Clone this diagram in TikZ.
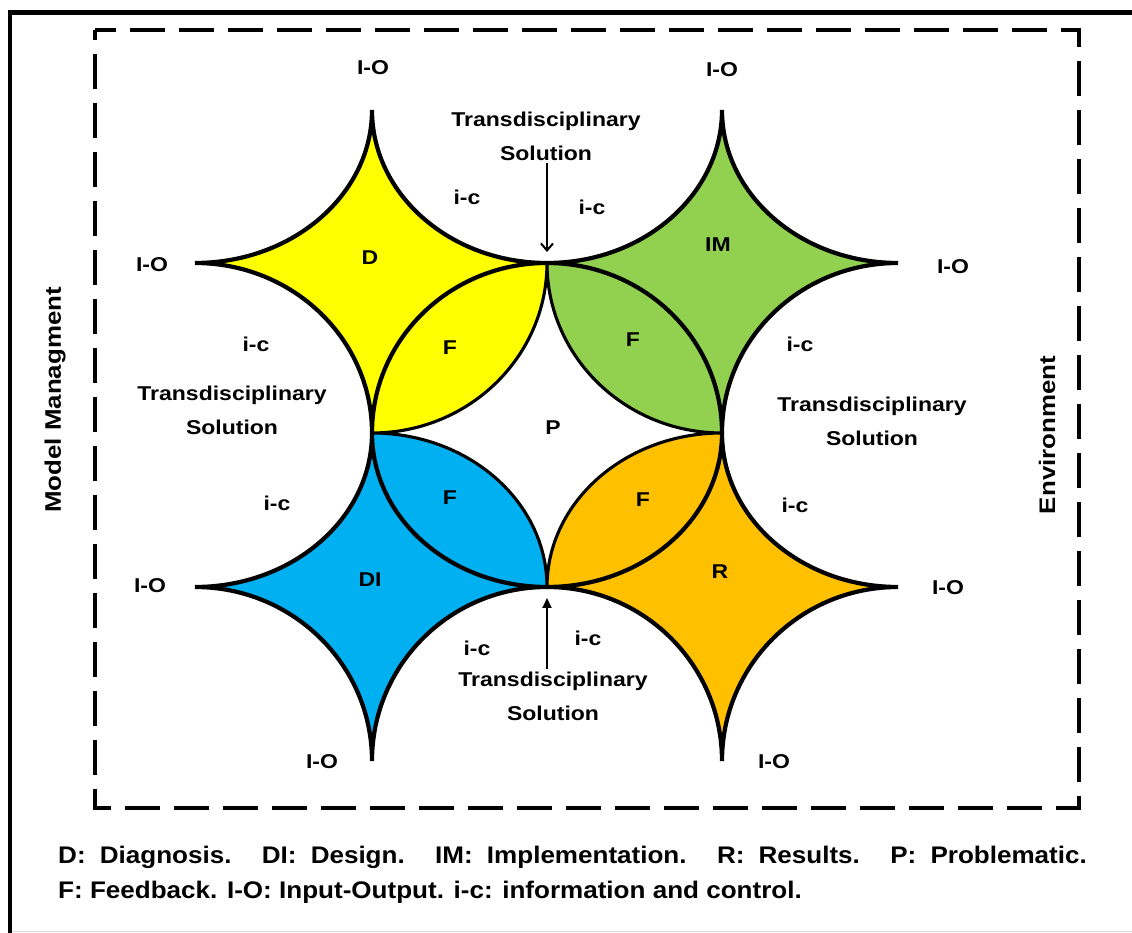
\documentclass[tikz,border=0pt]{standalone}
\usepackage{fontspec}
\setmainfont{Liberation Sans}
\usetikzlibrary{arrows.meta}
\definecolor{diagYellow}{HTML}{FFFF00}
\definecolor{implGreen}{HTML}{92D050}
\definecolor{desBlue}{HTML}{00B0F0}
\definecolor{resOrange}{HTML}{FFC000}

\tikzset{
  lbl/.style={font=\fontsize{20}{34}\selectfont\bfseries, xscale=1.15, inner sep=2pt, align=center},
  side/.style={font=\fontsize{22.5}{26}\selectfont\bfseries, rotate=90, xscale=1.15, inner sep=0pt},
  legend/.style={font=\fontsize{24}{28}\selectfont\bfseries, xscale=1.085, inner sep=0pt},
  rim/.style={line width=4.2pt},
  pbound/.style={line width=3.1pt},
  pointer/.style={line width=2pt, shorten >=11pt}
}

\begin{document}
\begin{tikzpicture}[x=1pt,y=1pt]
  \useasboundingbox (0,0) rectangle (1132,933);
  % frame
  \draw[line width=1pt, black!15] (10,1.5) -- (1132,1.5);
  \draw[line width=4.5pt] (1132,920.5) -- (10,920.5) -- (10,0);
  \draw[line width=3.5pt, dash pattern=on 35pt off 14pt, dash phase=25pt] (95,903) rectangle (1079,125);

  % fills: star plus its F lens
  \fill[diagYellow] (372,823) arc[start angle=180,end angle=270,x radius=175,y radius=153]
    arc[start angle=0,end angle=-90,x radius=175,y radius=170]
    arc[start angle=0,end angle=90,x radius=177,y radius=170]
    arc[start angle=270,end angle=360,x radius=177,y radius=153] -- cycle;
  \fill[implGreen] (547,670) arc[start angle=270,end angle=360,x radius=175,y radius=153]
    arc[start angle=180,end angle=270,x radius=176,y radius=153]
    arc[start angle=90,end angle=180,x radius=176,y radius=170]
    arc[start angle=270,end angle=180,x radius=175,y radius=170] -- cycle;
  \fill[desBlue] (372,500) arc[start angle=90,end angle=0,x radius=175,y radius=154]
    arc[start angle=90,end angle=180,x radius=175,y radius=174]
    arc[start angle=0,end angle=90,x radius=177,y radius=174]
    arc[start angle=270,end angle=360,x radius=177,y radius=154] -- cycle;
  \fill[resOrange] (547,346) arc[start angle=180,end angle=90,x radius=175,y radius=154]
    arc[start angle=180,end angle=270,x radius=176,y radius=154]
    arc[start angle=90,end angle=180,x radius=176,y radius=174]
    arc[start angle=0,end angle=90,x radius=175,y radius=174] -- cycle;

  % P boundary
  \draw[pbound] (547,670) arc[start angle=0,end angle=-90,x radius=175,y radius=170]
    arc[start angle=90,end angle=0,x radius=175,y radius=154]
    arc[start angle=180,end angle=90,x radius=175,y radius=154]
    arc[start angle=270,end angle=180,x radius=175,y radius=170];

  % star outlines
  \draw[rim] (372,823) arc[start angle=180,end angle=270,x radius=175,y radius=153]
    arc[start angle=90,end angle=180,x radius=175,y radius=170]
    arc[start angle=0,end angle=90,x radius=177,y radius=170]
    arc[start angle=270,end angle=360,x radius=177,y radius=153];
  \draw[rim] (547,670) arc[start angle=270,end angle=360,x radius=175,y radius=153]
    arc[start angle=180,end angle=270,x radius=176,y radius=153]
    arc[start angle=90,end angle=180,x radius=176,y radius=170]
    arc[start angle=0,end angle=90,x radius=175,y radius=170];
  \draw[rim] (372,500) arc[start angle=180,end angle=270,x radius=175,y radius=154]
    arc[start angle=90,end angle=180,x radius=175,y radius=174]
    arc[start angle=0,end angle=90,x radius=177,y radius=174]
    arc[start angle=270,end angle=360,x radius=177,y radius=154];
  \draw[rim] (547,346) arc[start angle=270,end angle=360,x radius=175,y radius=154]
    arc[start angle=180,end angle=270,x radius=176,y radius=154]
    arc[start angle=90,end angle=180,x radius=176,y radius=174]
    arc[start angle=0,end angle=90,x radius=175,y radius=174];

  \coordinate (jTop) at (547,670);
  \coordinate (jBot) at (547,346);

  % region names
  \node[lbl] (d) at (370,675) {D};
  \node[lbl] (im) at (718,688) {IM};
  \node[lbl] (di) at (370,353) {DI};
  \node[lbl] (r) at (720,361) {R};
  \node[lbl] (p) at (553,505) {P};
  \node[lbl] (fD) at (450,585) {F};
  \node[lbl] (fIM) at (633,593) {F};
  \node[lbl] (fDI) at (450,435) {F};
  \node[lbl] (fR) at (643,433) {F};

  % inputs and outputs
  \node[lbl] (ioDt) at (373,865) {I-O};
  \node[lbl] (ioDl) at (152,668) {I-O};
  \node[lbl] (ioIMt) at (722,863) {I-O};
  \node[lbl] (ioIMr) at (953,666) {I-O};
  \node[lbl] (ioDIl) at (150,347) {I-O};
  \node[lbl] (ioDIb) at (322,171) {I-O};
  \node[lbl] (ioRr) at (948,345) {I-O};
  \node[lbl] (ioRb) at (774,171) {I-O};

  \node[lbl] (ic1) at (467,736) {i-c};
  \node[lbl] (ic2) at (592,726) {i-c};
  \node[lbl] (ic3) at (256,589) {i-c};
  \node[lbl] (ic4) at (800,589) {i-c};
  \node[lbl] (ic5) at (277,430) {i-c};
  \node[lbl] (ic6) at (795,428) {i-c};
  \node[lbl] (ic7) at (477,285) {i-c};
  \node[lbl] (ic8) at (588,295) {i-c};

  \node[lbl] (tsTop) at (546,797) {Transdisciplinary\\Solution};
  \node[lbl] (tsBot) at (553,237) {Transdisciplinary\\Solution};
  \node[lbl] (tsLeft) at (232,523) {Transdisciplinary\\Solution};
  \node[lbl] (tsRight) at (872,512) {Transdisciplinary\\Solution};
  \draw[pointer, -{Straight Barb[length=7pt,width=12pt]}] (tsTop.south -| jTop) -- (jTop);
  \draw[pointer, -{Triangle[length=10pt,width=9pt]}] (tsBot.north -| jBot) -- (jBot);

  \node[side] (model) at (55,533) {Model Managment};
  \node[side] (env) at (1047,498) {Environment};

  % key
  \node[legend, anchor=base west] (key1) at (58,69) {\makebox[948pt][s]{D: Diagnosis. DI: Design. IM: Implementation. R: Results. P: Problematic.}};
  \node[legend, anchor=base west] (key2) at (58,34) {F: Feedback. I-O: Input-Output. i-c: information and control.};
\end{tikzpicture}
\end{document}
